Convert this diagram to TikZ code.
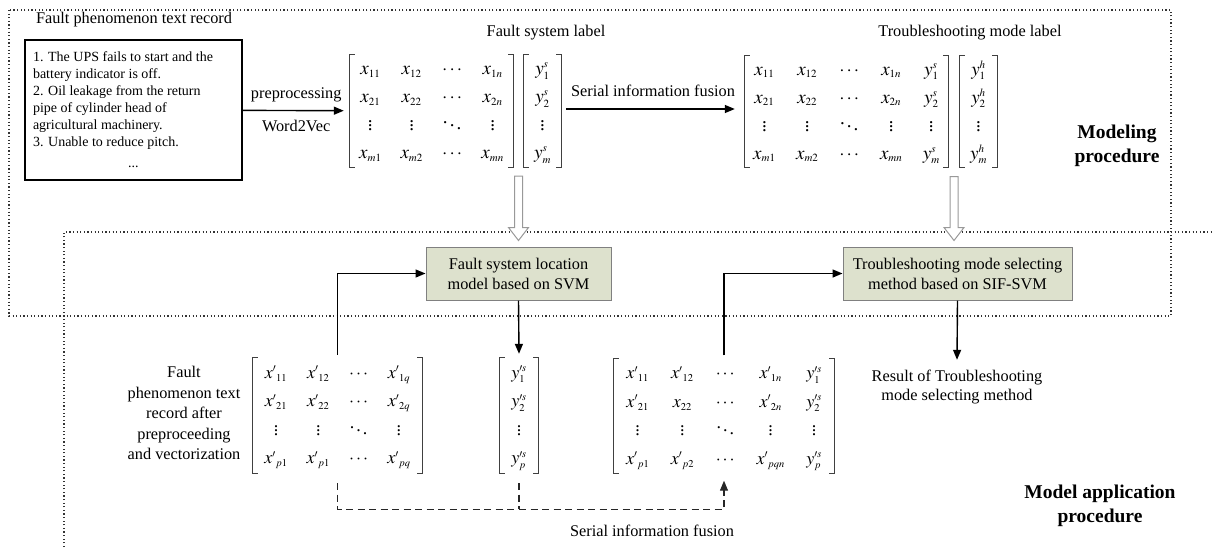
\documentclass[tikz,border=0pt]{standalone}
\usepackage{mathptmx}
\usepackage[no-math]{fontspec}
\setmainfont{Liberation Serif}
\DeclareMathSizes{19}{19}{11}{8}
\DeclareMathSizes{18}{18}{10.5}{7.5}
\usetikzlibrary{arrows.meta,calc,positioning}
\definecolor{olivebg}{RGB}{221,225,205}
\tikzset{
  dotbox/.style={draw=black!80, line width=1.2pt, dash pattern=on 1.2pt off 2.4pt},
  arr/.style={draw=black, line width=1.4pt, -{Triangle[length=10pt,width=8pt]}},
  dsh/.style={draw=black!85, line width=1.2pt, dash pattern=on 7pt off 4.5pt},
  hollowarr/.style={draw=black!40, fill=white, line width=1pt},
  greenbox/.style={draw=black!50, fill=olivebg, line width=1pt, inner sep=0pt, align=center, font=\fontsize{16.3}{20}\selectfont},
  mat/.style={inner sep=0pt, font=\fontsize{19}{20}\selectfont\renewcommand\arraystretch{1.4}},
  matb/.style={inner sep=0pt, font=\fontsize{18}{19}\selectfont\renewcommand\arraystretch{1.5}},
  brk/.style={draw=black!75, line width=0.9pt},
  lbl/.style={font=\fontsize{16.3}{19}\selectfont, inner sep=0pt},
  bold/.style={font=\fontsize{19.5}{24}\selectfont\bfseries, inner sep=0pt, align=center},
}
\newcommand{\mybrk}[1]{%
  \draw[brk] ([xshift=5pt]#1.north west) -- (#1.north west) -- (#1.south west) -- ([xshift=5pt]#1.south west);
  \draw[brk] ([xshift=-5pt]#1.north east) -- (#1.north east) -- (#1.south east) -- ([xshift=-5pt]#1.south east);}
\newcommand{\hollowarrow}[2]{%
  \draw[hollowarr] ($(#1)+(-4,0)$) -- ($(#2)+(-4,-13)$) -- ($(#2)+(-10,-13)$) -- (#2)
    -- ($(#2)+(10,-13)$) -- ($(#2)+(4,-13)$) -- ($(#1)+(4,0)$) -- cycle;}
\begin{document}
\begin{tikzpicture}[x=1pt,y=-1pt]
\useasboundingbox (0,0) rectangle (1213,547);
% dotted frames
\draw[dotbox] (9,10) rectangle (1171,316);
\draw[dotbox] (64,547) -- (64,232) -- (1213,232);

% --- Modeling procedure ---
\node[lbl] (t1) at (134,20) {Fault phenomenon text record};
\node[draw, line width=1.2pt, minimum width=217pt, minimum height=140pt, inner sep=0pt,
      font=\fontsize{14}{17}\selectfont, align=left] (tb) at (133.5,110)
 {\parbox{201pt}{1. The UPS fails to start and the\\
 battery indicator is off.\\
 2. Oil leakage from the return\\
 pipe of cylinder head of\\
 agricultural machinery.\\
 3. Unable to reduce pitch.\\[4pt]
 \makebox[201pt]{...}}};

\node[mat, minimum width=163pt, minimum height=112pt] (M1) at (431.5,111)
 {$\begin{array}{@{}c@{\hspace{19pt}}c@{\hspace{19pt}}c@{\hspace{19pt}}c@{}}
 x_{11} & x_{12} & \cdots & x_{1n}\\
 x_{21} & x_{22} & \cdots & x_{2n}\\
 \vdots & \vdots & \ddots & \vdots\\
 x_{m1} & x_{m2} & \cdots & x_{mn}
 \end{array}$};
\node[mat, minimum width=37pt, minimum height=112pt] (Ys) at (542.5,111)
 {$\begin{array}{c} y^{s}_{1}\\ y^{s}_{2}\\ \vdots\\ y^{s}_{m}\end{array}$};
\node[lbl] (t2) at (546,33) {Fault system label};

\node[mat, minimum width=203pt, minimum height=112pt] (M2) at (846.5,111.5)
 {$\begin{array}{@{}c@{\hspace{20.5pt}}c@{\hspace{20.5pt}}c@{\hspace{20.5pt}}c@{\hspace{20.5pt}}c@{}}
 x_{11} & x_{12} & \cdots & x_{1n} & y^{s}_{1}\\
 x_{21} & x_{22} & \cdots & x_{2n} & y^{s}_{2}\\
 \vdots & \vdots & \ddots & \vdots & \vdots\\
 x_{m1} & x_{m2} & \cdots & x_{mn} & y^{s}_{m}
 \end{array}$};
\node[mat, minimum width=37pt, minimum height=112pt] (Yh) at (978.5,111.5)
 {$\begin{array}{c} y^{h}_{1}\\ y^{h}_{2}\\ \vdots\\ y^{h}_{m}\end{array}$};
\node[lbl] (t3) at (970,33) {Troubleshooting mode label};

\node[bold] (mp) at (1117,146) {Modeling\\procedure};

\foreach \m in {M1,Ys,M2,Yh}{\mybrk{\m}}

\draw[arr, shorten >=6pt] (tb) -- node[lbl, above=8pt] (pp) {preprocessing}
  node[lbl, below=9pt] (w2v) {Word2Vec} (M1);
\draw[arr, shorten <=5pt, shorten >=10pt] (Ys.east |- 0,109) -- node[lbl, above=12pt] (sif) {Serial information fusion} (M2.west |- 0,109);

% --- Model application procedure ---
\node[greenbox, minimum width=185pt, minimum height=53pt] (B1) at (518.5,273.5)
 {Fault system location\\model based on SVM};
\node[greenbox, minimum width=229pt, minimum height=53pt] (B2) at (957.5,273.5)
 {Troubleshooting mode selecting\\method based on SIF-SVM};

\coordinate (h1a) at ($(M1.south east)!0.5!(Ys.south west)+(0,9)$);
\coordinate (h1b) at ($(h1a |- B1.north)+(0,-6)$);
\coordinate (h2a) at ($(M2.south east)!0.5!(Yh.south west)+(0,9)$);
\coordinate (h2b) at ($(h2a |- B2.north)+(0,-6)$);
\hollowarrow{h1a}{h1b}
\hollowarrow{h2a}{h2b}

\node[matb, minimum width=169pt, minimum height=115pt] (Mb1) at (337.5,415.5)
 {$\begin{array}{@{}c@{\hspace{19pt}}c@{\hspace{19pt}}c@{\hspace{19pt}}c@{}}
 {x^{\prime}}_{11} & {x^{\prime}}_{12} & \cdots & {x^{\prime}}_{1q}\\
 {x^{\prime}}_{21} & {x^{\prime}}_{22} & \cdots & {x^{\prime}}_{2q}\\
 \vdots & \vdots & \ddots & \vdots\\
 {x^{\prime}}_{p1} & {x^{\prime}}_{p1} & \cdots & {x^{\prime}}_{pq}
 \end{array}$};
\node[matb, minimum width=38pt, minimum height=115pt] (Yb) at (519,415.5)
 {$\begin{array}{c} y^{\prime s}_{1}\\ y^{\prime s}_{2}\\ \vdots\\ y^{\prime s}_{p}\end{array}$};
\node[matb, minimum width=220pt, minimum height=115pt] (Mb3) at (724,416)
 {$\begin{array}{@{}c@{\hspace{21.5pt}}c@{\hspace{21.5pt}}c@{\hspace{21.5pt}}c@{\hspace{21.5pt}}c@{}}
 {x^{\prime}}_{11} & {x^{\prime}}_{12} & \cdots & {x^{\prime}}_{1n} & y^{\prime s}_{1}\\
 {x^{\prime}}_{21} & x_{22} & \cdots & {x^{\prime}}_{2n} & y^{\prime s}_{2}\\
 \vdots & \vdots & \ddots & \vdots & \vdots\\
 {x^{\prime}}_{p1} & {x^{\prime}}_{p2} & \cdots & {x^{\prime}}_{pqn} & y^{\prime s}_{p}
 \end{array}$};
\foreach \m in {Mb1,Yb,Mb3}{\mybrk{\m}}

\node[lbl, font=\fontsize{16.3}{20.5}\selectfont, align=center] (lt) at (184,413)
 {Fault\\phenomenon text\\record after\\preproceeding\\and vectorization};

\node[lbl, align=center] (Res) at (957,387)
 {Result of Troubleshooting\\mode selecting method};

\node[bold] (ma) at (1100,506) {Model application\\procedure};

\draw[arr] ([yshift=3pt]Mb1.north) |- (B1.west);
\draw[arr] (B1.south) -- ([yshift=4pt]Yb.north);
\draw[arr] ([yshift=3pt]Mb3.north) |- (B2.west);
\draw[arr] (B2.south) -- ([yshift=10pt]Res.north);

\coordinate (dj) at ($(Yb.south)+(0,36)$);
\draw[dsh] ([yshift=-10pt]Mb1.south) |- (dj);
\draw[dsh] ([yshift=-10pt]Yb.south) -- (dj);
\draw[dsh, -{Triangle[length=10pt,width=8pt]}] (dj) -| ([yshift=-7pt]Mb3.south);
\node[lbl] (sif2) at (652,531) {Serial information fusion};
\end{tikzpicture}
\end{document}
